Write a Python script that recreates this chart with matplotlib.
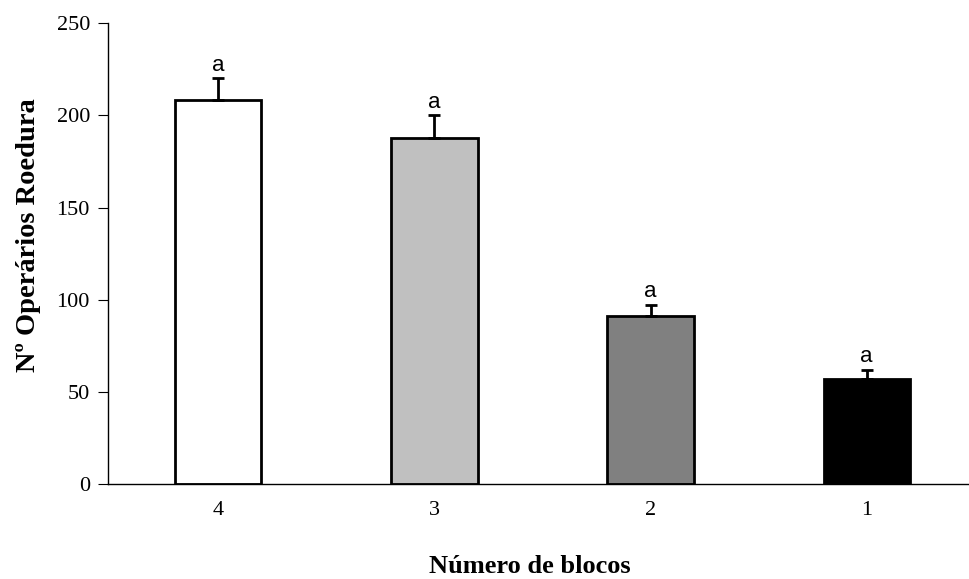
import numpy as np
import matplotlib.pyplot as plt

categories = ["4", "3", "2", "1"]
values = [208.5, 187.5, 91.0, 57.0]
errors = [11.5, 12.5, 6.0, 5.0]
letters = ["a", "a", "a", "a"]
colors = ["white", "#c0c0c0", "#808080", "black"]

fig = plt.figure(figsize=(9.7, 5.79), dpi=100)
ax = fig.add_axes([0.1113, 0.164, 0.887, 0.796])

x = np.arange(len(categories))
ax.bar(x, values, width=0.40, color=colors, edgecolor="black", linewidth=2,
       yerr=[np.zeros(len(errors)), errors], capsize=4,
       error_kw=dict(ecolor="black", elinewidth=2, capthick=2), zorder=2)

for xi, v, e, l in zip(x, values, errors, letters):
    ax.text(xi, v + e + 1.5, l, ha="center", va="bottom", fontsize=16,
            family="Liberation Sans")

ax.set_xlim(-0.51, 3.47)
ax.set_ylim(0, 250)
ax.set_yticks([0, 50, 100, 150, 200, 250])
ax.set_xticks(x)
ax.set_xticklabels(categories)
ax.tick_params(axis="x", length=0, pad=12)
ax.tick_params(axis="y", direction="out", length=7, pad=6)
for lab in ax.get_xticklabels() + ax.get_yticklabels():
    lab.set_family("Liberation Serif")
    lab.set_fontsize(16)

ax.spines["top"].set_visible(False)
ax.spines["right"].set_visible(False)
ax.spines["left"].set_linewidth(1)
ax.spines["bottom"].set_linewidth(1)

ax.set_ylabel("Nº Operários Roedura", family="Liberation Serif", fontsize=20.5,
              fontweight="bold")
ax.yaxis.set_label_coords(-0.078, 0.54)
ax.set_xlabel("Número de blocos", family="Liberation Serif", fontsize=19,
              fontweight="bold", labelpad=26)
ax.xaxis.set_label_coords(0.49, -0.155)

fig.savefig("out.png", dpi=100)
